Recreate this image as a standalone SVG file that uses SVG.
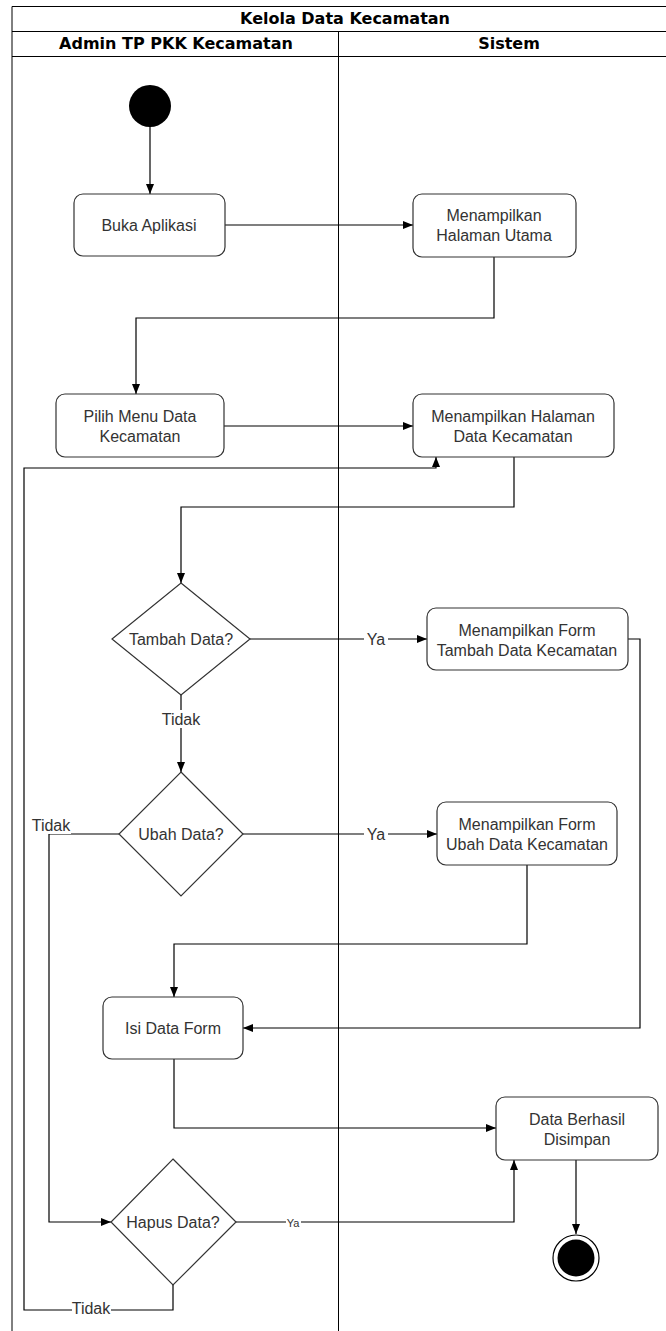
<svg xmlns="http://www.w3.org/2000/svg" width="666" height="1331" viewBox="0 0 666 1331">
<style>
.lane{fill:none;stroke:#000;stroke-width:1}
.hdr{font-family:"DejaVu Sans",sans-serif;font-weight:bold;font-size:16px;fill:#000;text-anchor:middle;dominant-baseline:central}
.box{fill:#fff;stroke:#333;stroke-width:1.2}
.t{font-family:"Liberation Sans",Arial,sans-serif;font-size:16px;fill:#333;text-anchor:middle;dominant-baseline:central}
.e{fill:none;stroke:#000;stroke-width:1.2}
.lbl{font-family:"Liberation Sans",Arial,sans-serif;font-size:16px;fill:#333;text-anchor:middle;dominant-baseline:central}
.bg{fill:#fff}
</style>
<defs>
<marker id="ar" viewBox="0 0 10 10" refX="10" refY="5" markerWidth="10" markerHeight="10" markerUnits="userSpaceOnUse" orient="auto">
<path d="M0,1 L10,5 L0,9 Z" fill="#000"/>
</marker>
</defs>
<rect width="666" height="1331" fill="#fff"/>
<g id="pool">
<path class="lane" d="M12,1331 V6.5 H680 M12,31.5 H680 M12,56.5 H680 M338.5,31.5 V1331"/>
<text class="hdr" x="345" y="18.5">Kelola Data Kecamatan</text>
<text class="hdr" x="176" y="43.5">Admin TP PKK Kecamatan</text>
<text class="hdr" x="509" y="43.5">Sistem</text>
</g>
<g id="connectors">
<path class="e" d="M150,127 V194" marker-end="url(#ar)"/>
<path class="e" d="M225,225 H413" marker-end="url(#ar)"/>
<path class="e" d="M494,257 V318 H136 V394" marker-end="url(#ar)"/>
<path class="e" d="M224,426 H413" marker-end="url(#ar)"/>
<path class="e" d="M514,457 V507 H181 V583" marker-end="url(#ar)"/>
<path class="e" d="M250,639 H427" marker-end="url(#ar)"/>
<path class="e" d="M181,695 V772" marker-end="url(#ar)"/>
<path class="e" d="M243,834 H437" marker-end="url(#ar)"/>
<path class="e" d="M119,834 H49 V1222 H111" marker-end="url(#ar)"/>
<path class="e" d="M628,639 H640 V1028 H243" marker-end="url(#ar)"/>
<path class="e" d="M527,865 V944 H174 V997" marker-end="url(#ar)"/>
<path class="e" d="M174,1059 V1128 H496" marker-end="url(#ar)"/>
<path class="e" d="M236,1222 H514 V1160" marker-end="url(#ar)"/>
<path class="e" d="M173,1285 V1310 H24 V468 H436 V457" marker-end="url(#ar)"/>
<path class="e" d="M576,1160 V1234" marker-end="url(#ar)"/>
<rect class="bg" x="364" y="630" width="24" height="18"/>
<text class="lbl" x="376" y="639">Ya</text>
<rect class="bg" x="162" y="710" width="38" height="18"/>
<text class="lbl" x="181" y="719">Tidak</text>
<rect class="bg" x="364" y="825" width="24" height="18"/>
<text class="lbl" x="376" y="834">Ya</text>
<rect class="bg" x="31" y="816" width="40" height="18"/>
<text class="lbl" x="51" y="825">Tidak</text>
<rect class="bg" x="286" y="1215" width="15" height="14"/>
<text class="lbl" x="293" y="1223" style="font-size:11px">Ya</text>
<rect class="bg" x="72" y="1300" width="39" height="17"/>
<text class="lbl" x="91" y="1308">Tidak</text>
</g>
<g id="start"><circle cx="150" cy="106" r="21" fill="#000"/></g>
<g id="buka"><rect class="box" x="74" y="194" width="151" height="62" rx="9"/><text class="t" x="149" y="225">Buka Aplikasi</text></g>
<g id="utama"><rect class="box" x="413" y="194" width="163" height="63" rx="9"/><text class="t" x="494" y="215">Menampilkan</text><text class="t" x="494" y="235">Halaman Utama</text></g>
<g id="pilih"><rect class="box" x="56" y="394" width="168" height="63" rx="9"/><text class="t" x="140" y="416">Pilih Menu Data</text><text class="t" x="140" y="436">Kecamatan</text></g>
<g id="haldata"><rect class="box" x="413" y="394" width="201" height="63" rx="9"/><text class="t" x="513" y="416">Menampilkan Halaman</text><text class="t" x="513" y="436">Data Kecamatan</text></g>
<g id="tambah"><path class="box" d="M181,583 L250,639 L181,695 L112,639 Z"/><text class="t" x="181" y="639">Tambah Data?</text></g>
<g id="formtambah"><rect class="box" x="427" y="608" width="201" height="62" rx="9"/><text class="t" x="527" y="630">Menampilkan Form</text><text class="t" x="527" y="650">Tambah Data Kecamatan</text></g>
<g id="ubah"><path class="box" d="M181,772 L243,834 L181,896 L119,834 Z"/><text class="t" x="181" y="834">Ubah Data?</text></g>
<g id="formubah"><rect class="box" x="437" y="802" width="180" height="63" rx="9"/><text class="t" x="527" y="824">Menampilkan Form</text><text class="t" x="527" y="844">Ubah Data Kecamatan</text></g>
<g id="isi"><rect class="box" x="103" y="997" width="140" height="62" rx="9"/><text class="t" x="173" y="1028">Isi Data Form</text></g>
<g id="berhasil"><rect class="box" x="496" y="1097" width="162" height="63" rx="9"/><text class="t" x="577" y="1119">Data Berhasil</text><text class="t" x="577" y="1139">Disimpan</text></g>
<g id="hapus"><path class="box" d="M173,1159 L236,1222 L173,1285 L111,1222 Z"/><text class="t" x="173" y="1222">Hapus Data?</text></g>
<g id="end"><circle cx="576" cy="1258" r="23" fill="#fff" stroke="#000" stroke-width="1.2"/><circle cx="576" cy="1258" r="18.5" fill="#000"/></g>
</svg>
